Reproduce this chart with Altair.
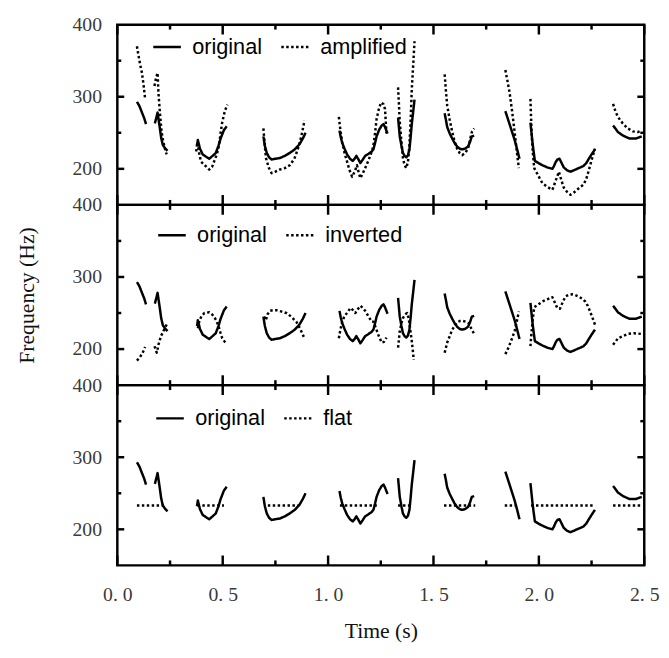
import altair as alt
import pandas as pd

# ---------------- data ----------------
# original F0 contour, one list per voiced segment (time in s, frequency in Hz)
original_time = [
    [0.093, 0.105, 0.117, 0.128, 0.136],
    [0.178, 0.186, 0.191, 0.196, 0.202, 0.208, 0.216, 0.228, 0.238],
    [0.378, 0.382, 0.392, 0.405, 0.420, 0.436, 0.452, 0.467, 0.480, 0.490, 0.506, 0.519],
    [0.693, 0.700, 0.709, 0.720, 0.732, 0.750, 0.771, 0.795, 0.818, 0.842, 0.864, 0.880, 0.893],
    [1.054, 1.060, 1.067, 1.078, 1.090, 1.104, 1.117, 1.126, 1.134, 1.144, 1.153, 1.165, 1.176,
     1.192, 1.207, 1.215, 1.223, 1.230, 1.242, 1.254, 1.263, 1.270, 1.282],
    [1.332, 1.336, 1.340, 1.348, 1.355, 1.363, 1.371, 1.379, 1.386, 1.392, 1.397, 1.404, 1.410],
    [1.553, 1.559, 1.565, 1.577, 1.589, 1.600, 1.612, 1.624, 1.636, 1.650, 1.664, 1.673, 1.682, 1.693],
    [1.841, 1.851, 1.861, 1.873, 1.885, 1.897, 1.908],
    [1.960, 1.965, 1.970, 1.976, 1.981, 1.998, 2.017, 2.040, 2.064, 2.072, 2.079, 2.088, 2.098,
     2.108, 2.118, 2.134, 2.150, 2.166, 2.181, 2.197, 2.212, 2.225, 2.235, 2.250, 2.266],
    [2.352, 2.363, 2.375, 2.400, 2.430, 2.460, 2.488],
]
original_freq = [
    [293, 287, 278, 270, 262],
    [263, 272, 278, 268, 256, 243, 233, 228, 225],
    [232, 240, 228, 220, 217, 214, 218, 222, 232, 242, 254, 259],
    [245, 232, 222, 216, 213, 214, 215, 218, 222, 227, 234, 242, 250],
    [253, 244, 236, 228, 220, 214, 211, 214, 218, 213, 208, 213, 218,
     221, 224, 227, 236, 245, 254, 260, 262, 258, 249],
    [271, 258, 245, 232, 222, 218, 216, 219, 227, 245, 262, 280, 296],
    [277, 268, 258, 249, 242, 236, 231, 228, 227, 228, 231, 237, 245, 246],
    [280, 271, 262, 251, 240, 227, 214],
    [264, 250, 236, 222, 211, 208, 205, 202, 200, 204, 209, 213, 214,
     208, 202, 198, 196, 198, 200, 202, 204, 208, 213, 220, 227],
    [260, 256, 251, 246, 242, 242, 245],
]

amplified_time = [
    [0.093, 0.100, 0.108, 0.117, 0.125, 0.132],
    [0.176, 0.183, 0.191, 0.195, 0.202, 0.210, 0.218, 0.226, 0.234],
    [0.374, 0.380, 0.388, 0.397, 0.415, 0.436, 0.450, 0.459, 0.472, 0.483, 0.490, 0.498, 0.510, 0.522],
    [0.693, 0.699, 0.705, 0.718, 0.732, 0.750, 0.771, 0.795, 0.818, 0.840, 0.857, 0.873, 0.888],
    [1.051, 1.059, 1.067, 1.078, 1.090, 1.102, 1.114, 1.126, 1.137, 1.145, 1.153, 1.165, 1.176,
     1.192, 1.207, 1.215, 1.223, 1.230, 1.240, 1.251, 1.262, 1.270, 1.277],
    [1.332, 1.336, 1.340, 1.348, 1.355, 1.363, 1.371, 1.379, 1.386, 1.392, 1.397, 1.404, 1.410],
    [1.553, 1.559, 1.565, 1.577, 1.589, 1.600, 1.612, 1.624, 1.636, 1.650, 1.664, 1.673, 1.682, 1.693],
    [1.841, 1.851, 1.861, 1.873, 1.885, 1.895, 1.905],
    [1.960, 1.963, 1.967, 1.972, 1.978, 1.998, 2.017, 2.040, 2.064, 2.072, 2.079, 2.088, 2.095,
     2.106, 2.118, 2.134, 2.150, 2.166, 2.181, 2.197, 2.212, 2.225, 2.235, 2.250, 2.266],
    [2.352, 2.363, 2.375, 2.398, 2.422, 2.446, 2.469, 2.488],
]
amplified_freq = [
    [370, 358, 345, 333, 315, 297],
    [315, 325, 333, 306, 278, 251, 238, 228, 220],
    [224, 237, 222, 210, 205, 199, 203, 210, 220, 233, 250, 265, 280, 289],
    [256, 235, 215, 202, 194, 196, 199, 201, 205, 214, 228, 245, 267],
    [272, 252, 237, 222, 210, 198, 189, 196, 205, 195, 187, 194, 201,
     212, 224, 232, 250, 269, 282, 292, 290, 283, 249],
    [313, 290, 265, 238, 215, 205, 201, 210, 233, 270, 310, 345, 377],
    [331, 308, 288, 268, 251, 238, 228, 222, 219, 222, 228, 240, 251, 256],
    [337, 322, 306, 280, 251, 225, 201],
    [297, 270, 242, 220, 201, 190, 180, 175, 171, 177, 183, 190, 196,
     185, 174, 168, 164, 167, 171, 175, 178, 186, 196, 212, 228],
    [290, 280, 272, 263, 256, 252, 251, 253],
]

inverted_time = [
    [0.093, 0.105, 0.117, 0.125, 0.132],
    [0.176, 0.182, 0.187, 0.191, 0.195, 0.201, 0.207, 0.214, 0.222, 0.234],
    [0.382, 0.390, 0.400, 0.413, 0.436, 0.450, 0.459, 0.472, 0.483, 0.490, 0.498, 0.510, 0.519],
    [0.696, 0.705, 0.712, 0.724, 0.740, 0.755, 0.780, 0.802, 0.825, 0.849, 0.868, 0.880, 0.888],
    [1.051, 1.059, 1.067, 1.078, 1.090, 1.106, 1.118, 1.129, 1.140, 1.153, 1.165, 1.176, 1.192,
     1.207, 1.215, 1.223, 1.238, 1.254, 1.265, 1.277],
    [1.332, 1.336, 1.340, 1.348, 1.355, 1.365, 1.375, 1.381, 1.386, 1.392, 1.397, 1.402, 1.406],
    [1.553, 1.559, 1.565, 1.577, 1.589, 1.600, 1.612, 1.626, 1.640, 1.653, 1.666, 1.675, 1.682, 1.693],
    [1.841, 1.851, 1.861, 1.873, 1.885, 1.895, 1.905],
    [1.960, 1.963, 1.967, 1.972, 1.978, 1.998, 2.017, 2.040, 2.064, 2.075, 2.087, 2.100, 2.113,
     2.126, 2.141, 2.157, 2.172, 2.188, 2.204, 2.220, 2.232, 2.243, 2.255, 2.266],
    [2.352, 2.363, 2.375, 2.398, 2.422, 2.450, 2.488],
]
inverted_freq = [
    [184, 188, 193, 198, 203],
    [204, 200, 195, 200, 206, 212, 218, 222, 227, 234],
    [229, 240, 246, 250, 251, 248, 245, 238, 229, 222, 215, 210, 207],
    [245, 240, 248, 253, 254, 254, 252, 250, 245, 238, 228, 220, 215],
    [215, 228, 238, 246, 250, 257, 254, 250, 255, 260, 257, 253, 245,
     238, 238, 232, 220, 209, 210, 216],
    [202, 213, 225, 236, 243, 248, 250, 244, 236, 222, 211, 198, 185],
    [195, 202, 209, 218, 227, 232, 237, 239, 239, 238, 236, 231, 227, 221],
    [193, 199, 206, 215, 225, 238, 252],
    [204, 216, 229, 244, 258, 262, 266, 269, 272, 265, 257, 256, 265,
     273, 275, 276, 275, 273, 270, 266, 260, 252, 243, 234],
    [206, 210, 215, 218, 221, 222, 221],
]

flat_time = [
    [0.093, 0.225], [0.380, 0.506], [0.714, 0.864], [1.056, 1.238], [1.332, 1.402],
    [1.550, 1.698], [1.838, 1.908], [1.963, 2.266], [2.352, 2.488],
]
flat_freq = [[233, 233]] * 9

x_tick_major = [0.0, 0.5, 1.0, 1.5, 2.0, 2.5]
x_tick_minor = [0.25, 0.75, 1.25, 1.75, 2.25]
y_tick_major = [200, 300]
y_tick_minor = [250, 350]
y_label_values = [200, 300, 400]
x_range = [0.0, 2.5]
y_range = [150, 400]

# ---------------- build tables ----------------
def table(series_list):
    rows = []
    for name, times, freqs in series_list:
        for k, (ts, fs) in enumerate(zip(times, freqs)):
            for i, (t, f) in enumerate(zip(ts, fs)):
                rows.append({"series": name, "key": f"{name}-{k}", "i": i, "t": t, "f": f})
    return pd.DataFrame(rows)


SERIF = "Liberation Serif"
SANS = "Liberation Sans"
LABEL_COLOR = "#3a3a3a"
XSCALE = alt.Scale(domain=x_range, nice=False, zero=False)
YSCALE = alt.Scale(domain=y_range, nice=False, zero=False)

XMAJ, XMIN, YMAJ, YMIN = 10, 5, 7, 4


def tick_layer(values, edge, vertical, length, shift, xaxis, yaxis):
    """Inward tick marks at the given axis values, sitting on one edge of the frame."""
    if vertical:
        df = pd.DataFrame({"t": values, "f": [edge] * len(values)})
        mark = alt.Chart(df).mark_tick(orient="vertical", size=length, thickness=2.5,
                                       color="black", opacity=1, yOffset=shift)
    else:
        df = pd.DataFrame({"t": [edge] * len(values), "f": values})
        mark = alt.Chart(df).mark_tick(orient="horizontal", size=length, thickness=2.5,
                                       color="black", opacity=1, xOffset=shift)
    return mark.encode(x=alt.X("t:Q", scale=XSCALE, axis=xaxis),
                       y=alt.Y("f:Q", scale=YSCALE, axis=yaxis))


def panel(other, times, freqs, lx, ly, bottom=False, ytitle=False):
    df = table([("original", original_time, original_freq), (other, times, freqs)])

    xaxis_kw = dict(orient="bottom", values=x_tick_major, domain=False, grid=False,
                    ticks=False, labelFlush=False)
    if bottom:
        xaxis_kw.update(labels=True,
                        labelExpr="replace(format(datum.value, '.1f'), '.', '. ')",
                        labelFont=SERIF, labelFontSize=20, labelColor=LABEL_COLOR, labelPadding=20,
                        title="Time (s)", titleFont=SERIF, titleFontSize=22, titleFontWeight="normal",
                        titleColor="#111", titlePadding=16)
    else:
        xaxis_kw.update(labels=False, title=None)

    yaxis_kw = dict(orient="left", values=y_label_values, domain=False, grid=False, ticks=False,
                    labelFont=SERIF, labelFontSize=20, labelColor=LABEL_COLOR, labelPadding=16)
    if ytitle:
        yaxis_kw.update(title="Frequency (Hz)", titleFont=SERIF, titleFontSize=22,
                        titleFontWeight="normal", titleColor="#111", titlePadding=34)
    else:
        yaxis_kw.update(title=None)

    xaxis = alt.Axis(**xaxis_kw)
    yaxis = alt.Axis(**yaxis_kw)

    lines = alt.Chart(df).mark_line(color="black", strokeWidth=2.5, strokeCap="butt",
                                    strokeJoin="round").encode(
        x=alt.X("t:Q", scale=XSCALE, axis=xaxis),
        y=alt.Y("f:Q", scale=YSCALE, axis=yaxis),
        detail="key:N",
        order="i:Q",
        strokeDash=alt.StrokeDash(
            "series:N",
            scale=alt.Scale(domain=["original", other], range=[[1, 0], [2.5, 2.5]]),
            legend=alt.Legend(orient="none", legendX=lx, legendY=ly, direction="horizontal",
                              title=None, symbolType="stroke", symbolSize=784,
                              symbolStrokeWidth=2.5, symbolStrokeColor="black",
                              labelFont=SANS, labelFontSize=22, labelColor="black",
                              labelOffset=10, columnPadding=14, padding=0),
        ),
    )

    ticks = [
        tick_layer(x_tick_major, y_range[0], True, XMAJ, -XMAJ / 2, xaxis, yaxis),
        tick_layer(x_tick_minor, y_range[0], True, XMIN, -XMIN / 2, xaxis, yaxis),
        tick_layer(x_tick_major, y_range[1], True, XMAJ, XMAJ / 2, xaxis, yaxis),
        tick_layer(x_tick_minor, y_range[1], True, XMIN, XMIN / 2, xaxis, yaxis),
        tick_layer(y_tick_major, x_range[0], False, YMAJ, YMAJ / 2, xaxis, yaxis),
        tick_layer(y_tick_minor, x_range[0], False, YMIN, YMIN / 2, xaxis, yaxis),
        tick_layer(y_tick_major, x_range[1], False, YMAJ, -YMAJ / 2, xaxis, yaxis),
        tick_layer(y_tick_minor, x_range[1], False, YMIN, -YMIN / 2, xaxis, yaxis),
    ]

    return alt.layer(lines, *ticks).properties(width=535, height=183)


p1 = panel("amplified", amplified_time, amplified_freq, 35, 7)
p2 = panel("inverted", inverted_time, inverted_freq, 40, 15, ytitle=True)
p3 = panel("flat", flat_time, flat_freq, 38, 18, bottom=True)

chart = alt.vconcat(p1, p2, p3, spacing=0, bounds="flush").resolve_scale(
    strokeDash="independent"
).properties(
    padding={"left": 6, "top": 0, "right": 0, "bottom": 0}
).configure(
    background="white",
    view=alt.ViewConfig(stroke="black", strokeWidth=2.5),
)

chart.save("out.html", embed_options={"renderer": "svg", "actions": False})
